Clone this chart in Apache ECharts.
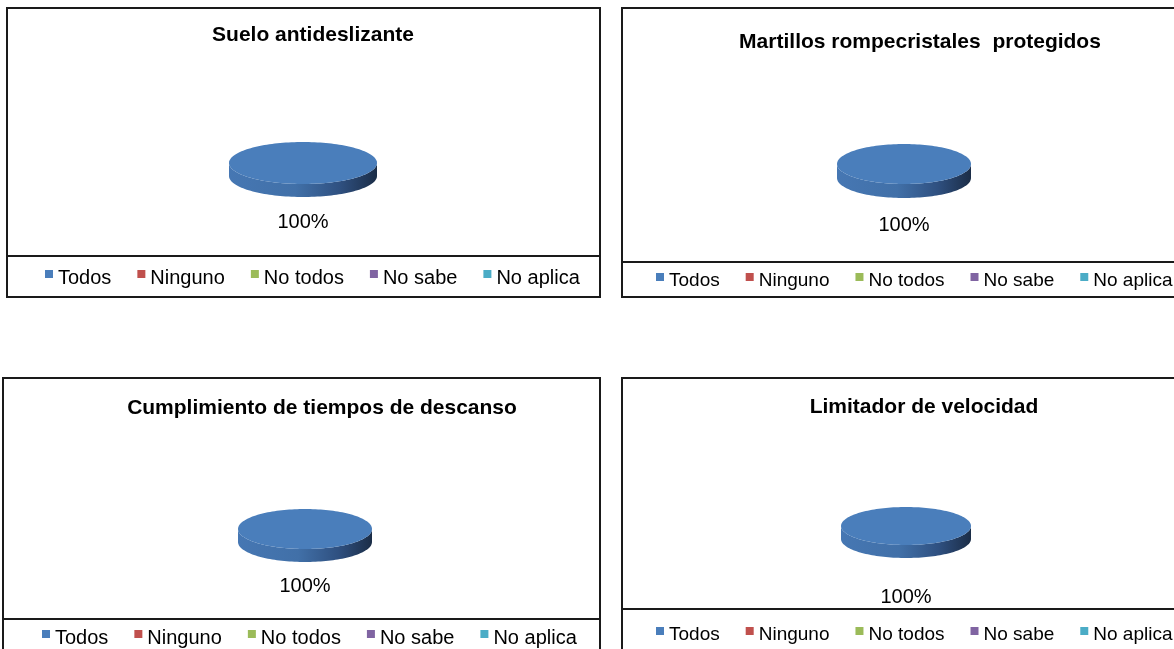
<!DOCTYPE html>
<html>
<head>
<meta charset="utf-8">
<script src="https://cdn.jsdelivr.net/npm/echarts@6/dist/echarts.min.js"></script>
<style>
  html, body { margin: 0; padding: 0; background: #fff; }
  #main { width: 1174px; height: 649px; }
</style>
</head>
<body>
<div id="main"></div>
<script>
  // datos
  var categories = ['Todos', 'Ninguno', 'No todos', 'No sabe', 'No aplica'];
  var colors = ['#4a7ebb', '#c0504d', '#9bbb59', '#8064a2', '#4bacc6'];
  var titles = ['Suelo antideslizante', 'Martillos rompecristales  protegidos', 'Cumplimiento de tiempos de descanso', 'Limitador de velocidad'];
  var sueloValues = [100, 0, 0, 0, 0];
  var martillosValues = [100, 0, 0, 0, 0];
  var descansoValues = [100, 0, 0, 0, 0];
  var limitadorValues = [100, 0, 0, 0, 0];
  var panelValues = [sueloValues, martillosValues, descansoValues, limitadorValues];

  var FONT = '"Liberation Sans", Arial, sans-serif';

  // posicion de cada grafico
  var panels = [
    { box: [7, 8, 593, 289], sep: 256, titleX: 313, titleY: 37, cx: 303, cy: 163, rx: 74, ry: 21, depth: 13, labelGap: 25, legendX: 45, legendY: 278, legendFont: 20 },
    { box: [622, 8, 580, 289], sep: 262, titleX: 920, titleY: 44, cx: 904, cy: 164, rx: 67, ry: 20, depth: 14, labelGap: 27, legendX: 656, legendY: 281, legendFont: 19 },
    { box: [3, 378, 597, 290], sep: 619, titleX: 322, titleY: 410, cx: 305, cy: 529, rx: 67, ry: 20, depth: 13, labelGap: 24, legendX: 42, legendY: 638, legendFont: 20 },
    { box: [622, 378, 580, 290], sep: 609, titleX: 924, titleY: 409, cx: 906, cy: 526, rx: 65, ry: 19, depth: 13, labelGap: 39, legendX: 656, legendY: 635, legendFont: 19 }
  ];

  // pastel 3D (elipse + lateral)
  function slicer(p, vals, idx) {
    var total = vals.reduce(function (a, b) { return a + b; }, 0);
    var start = 0;
    for (var i = 0; i < idx; i++) start += vals[i];
    return function (params, api) {
      var v = api.value(0);
      if (!v) return null;
      var a0 = start / total * Math.PI * 2, a1 = (start + v) / total * Math.PI * 2;
      var pt = function (a, dy) { return [p.cx + p.rx * Math.sin(a), p.cy - p.ry * Math.cos(a) + (dy || 0)]; };
      var children = [];
      var s0 = Math.max(a0, Math.PI / 2), s1 = Math.min(a1, Math.PI * 1.5);
      var k;
      if (s1 > s0) {
        var front = [], back = [];
        for (k = 0; k <= 80; k++) {
          var a = s0 + (s1 - s0) * k / 80;
          front.push(pt(a));
          back.unshift(pt(a, p.depth));
        }
        children.push({
          type: 'polygon',
          shape: { points: front.concat(back) },
          style: {
            fill: {
              type: 'linear', x: 0, y: 0, x2: 1, y2: 0,
              colorStops: [
                { offset: 0, color: '#4677b3' },
                { offset: 0.45, color: '#4170a8' },
                { offset: 0.75, color: '#2f5080' },
                { offset: 1, color: '#1b2d47' }
              ]
            }
          }
        });
      }
      var top = [];
      if (a1 - a0 < Math.PI * 2 - 1e-6) top.push([p.cx, p.cy]);
      for (k = 0; k <= 160; k++) top.push(pt(a0 + (a1 - a0) * k / 160));
      children.push({ type: 'polygon', shape: { points: top }, style: { fill: colors[idx] } });
      var mid = (a0 + a1) / 2;
      var below = mid > Math.PI / 2 && mid < Math.PI * 1.5;
      children.push({
        type: 'text',
        x: p.cx,
        y: below ? p.cy + p.ry + p.depth + p.labelGap : p.cy - p.ry - p.labelGap,
        style: {
          text: Math.round(v / total * 100) + '%',
          align: 'center', verticalAlign: 'middle',
          fontSize: 20, fontFamily: FONT, fill: '#000'
        }
      });
      return { type: 'group', children: children };
    };
  }

  var series = [], legends = [], titleList = [], graphics = [];
  panels.forEach(function (p, n) {
    categories.forEach(function (c, i) {
      series.push({
        type: 'custom',
        name: c,
        coordinateSystem: 'none',
        itemStyle: { color: colors[i] },
        data: [[panelValues[n][i]]],
        renderItem: slicer(p, panelValues[n], i),
        silent: true
      });
    });
    legends.push({
      data: categories,
      left: p.legendX,
      top: p.legendY - 10,
      padding: 0,
      itemGap: 26,
      itemWidth: 8,
      itemHeight: 16,
      icon: 'path://M0,0H8V8H0Z M0,16H0.01V16.01H0Z',
      selectedMode: false,
      textStyle: { fontSize: p.legendFont, fontFamily: FONT, color: '#000', lineHeight: 20 }
    });
    titleList.push({
      text: titles[n],
      left: p.titleX,
      top: p.titleY - 12,
      textAlign: 'center',
      padding: 0,
      textStyle: { fontSize: 21, fontWeight: 'bold', fontFamily: FONT, color: '#000' }
    });
    graphics.push({
      type: 'rect',
      shape: { x: p.box[0], y: p.box[1], width: p.box[2], height: p.box[3] },
      style: { fill: 'none', stroke: '#1a1a1a', lineWidth: 2 }
    });
    graphics.push({
      type: 'line',
      shape: { x1: p.box[0], y1: p.sep, x2: p.box[0] + p.box[2], y2: p.sep },
      style: { stroke: '#1a1a1a', lineWidth: 2 }
    });
  });

  var myChart = echarts.init(document.getElementById('main'));
  var option = {
    backgroundColor: '#fff',
    animation: false,
    title: titleList,
    legend: legends,
    graphic: graphics,
    series: series
  };
  myChart.setOption(option);
</script>
</body>
</html>
